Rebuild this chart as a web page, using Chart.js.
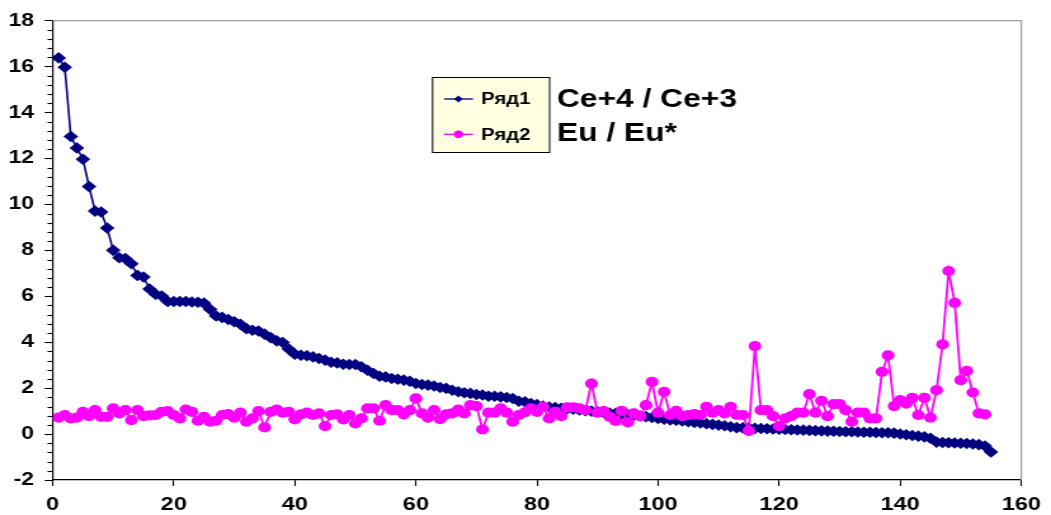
<!DOCTYPE html>
<html>
<head>
<meta charset="utf-8">
<script src="https://cdn.jsdelivr.net/npm/chart.js@4/dist/chart.umd.min.js"></script>
<style>
  body { margin: 0; background: #fff; }
</style>
</head>
<body>
<canvas id="c" width="828" height="515" style="display:block;width:1051px;height:515px"></canvas>
<script>
// Ряд1 : Ce+4 / Ce+3
const ceRatio = [
  16.38, 15.97, 12.96, 12.46, 11.97, 10.78, 9.71, 9.67, 8.97, 8.0,
  7.68, 7.64, 7.42, 6.91, 6.84, 6.32, 6.09, 6.01, 5.77, 5.77,
  5.77, 5.77, 5.75, 5.74, 5.7, 5.43, 5.14, 5.08, 4.99, 4.89,
  4.78, 4.59, 4.52, 4.49, 4.35, 4.2, 4.06, 3.99, 3.7, 3.48,
  3.43, 3.41, 3.36, 3.29, 3.22, 3.13, 3.1, 3.04, 3.03, 3.03,
  2.93, 2.78, 2.64, 2.52, 2.49, 2.42, 2.39, 2.35, 2.3, 2.2,
  2.16, 2.13, 2.09, 2.03, 1.99, 1.91, 1.84, 1.8, 1.77, 1.72,
  1.7, 1.65, 1.65, 1.62, 1.59, 1.55, 1.43, 1.41, 1.33, 1.28,
  1.22, 1.18, 1.15, 1.12, 1.1, 1.08, 1.05, 1.02, 1.0, 0.97,
  0.95, 0.92, 0.9, 0.87, 0.85, 0.82, 0.79, 0.76, 0.72, 0.68,
  0.65, 0.62, 0.6, 0.57, 0.54, 0.51, 0.48, 0.45, 0.42, 0.39,
  0.36, 0.32, 0.28, 0.27, 0.26, 0.25, 0.24, 0.23, 0.22, 0.21,
  0.2, 0.19, 0.18, 0.17, 0.16, 0.15, 0.14, 0.13, 0.12, 0.11,
  0.1, 0.1, 0.09, 0.08, 0.08, 0.07, 0.06, 0.06, 0.04, 0.0,
  -0.03, -0.06, -0.09, -0.12, -0.18, -0.35, -0.37, -0.38, -0.39, -0.4,
  -0.41, -0.43, -0.46, -0.52, -0.78
];

// Ряд2 : Eu / Eu*
const euRatio = [
  0.72, 0.83, 0.68, 0.72, 0.97, 0.78, 1.04, 0.75, 0.75, 1.12,
  0.9, 1.04, 0.61, 1.04, 0.78, 0.81, 0.83, 0.97, 1.0, 0.83,
  0.68, 1.07, 0.97, 0.58, 0.75, 0.54, 0.58, 0.83, 0.87, 0.72,
  0.93, 0.54, 0.68, 1.0, 0.29, 0.97, 1.07, 0.93, 0.97, 0.64,
  0.86, 0.93, 0.83, 0.9, 0.35, 0.83, 0.86, 0.64, 0.83, 0.46,
  0.68, 1.12, 1.12, 0.58, 1.26, 1.04, 1.04, 0.86, 1.04, 1.55,
  0.9, 0.72, 1.04, 0.65, 0.86, 0.9, 1.07, 0.9, 1.26, 1.22,
  0.2, 0.93, 0.93, 1.12, 0.93, 0.54, 0.83, 0.95, 1.12, 0.97,
  1.19, 0.68, 0.97, 0.78, 1.16, 1.16, 1.12, 1.04, 2.2, 0.93,
  1.0, 0.75, 0.57, 1.01, 0.51, 0.9, 0.78, 1.26, 2.27, 0.93,
  1.84, 0.83, 1.01, 0.78, 0.83, 0.87, 0.83, 1.19, 0.93, 1.04,
  0.9, 1.19, 0.83, 0.83, 0.14, 3.83, 1.04, 1.04, 0.78, 0.35,
  0.68, 0.78, 0.93, 0.93, 1.74, 0.93, 1.45, 0.78, 1.3, 1.3,
  1.04, 0.54, 0.93, 0.93, 0.68, 0.68, 2.71, 3.43, 1.22, 1.48,
  1.33, 1.58, 0.83, 1.58, 0.71, 1.91, 3.91, 7.1, 5.71, 2.35,
  2.75, 1.81, 0.9, 0.86
];

const seriesNames = ['Ряд1', 'Ряд2'];
const noteLines = ['Ce+4 / Ce+3', 'Eu / Eu*'];
const xTicks = [0, 20, 40, 60, 80, 100, 120, 140, 160];
const yTicks = [-2, 0, 2, 4, 6, 8, 10, 12, 14, 16, 18];

// sample numbers 1..N
const sampleNo = ceRatio.map((v, i) => i + 1);

const FONT = '"Liberation Sans", Arial, sans-serif';
const NAVY = '#000080';
const PINK = '#ff00ff';

const extras = {
  id: 'extras',
  beforeDatasetsDraw(chart) {
    const { ctx, chartArea: a } = chart;
    ctx.save();
    ctx.strokeStyle = '#a0a0a0';
    ctx.lineWidth = 1.3;
    ctx.beginPath();
    ctx.moveTo(a.left, a.top);
    ctx.lineTo(a.right, a.top);
    ctx.lineTo(a.right, a.bottom);
    ctx.stroke();
    // minor ticks on the value axis, every 0.4
    const y = chart.scales.y;
    ctx.strokeStyle = '#000';
    ctx.lineWidth = 1.1;
    for (let k = 0; k <= 50; k++) {
      if (k % 5 === 0) continue;
      const py = Math.round(y.getPixelForValue(yTicks[0] + k * 0.4)) + 0.5;
      ctx.beginPath();
      ctx.moveTo(a.left - 4, py);
      ctx.lineTo(a.left, py);
      ctx.stroke();
    }
    ctx.restore();
  },
  afterDraw(chart) {
    const { ctx } = chart;
    const ds = chart.data.datasets;
    ctx.save();
    // legend box
    const bx = 340.3, by = 77, bw = 92.2, bh = 75;
    ctx.fillStyle = '#ffffe1';
    ctx.fillRect(bx, by, bw, bh);
    ctx.strokeStyle = '#000';
    ctx.lineWidth = 1;
    ctx.strokeRect(bx + 0.5, by + 0.5, bw, bh);
    const rows = [99, 134.3];
    ds.forEach((d, i) => {
      const ry = rows[i];
      ctx.strokeStyle = d.borderColor;
      ctx.lineWidth = 1.3;
      ctx.beginPath();
      ctx.moveTo(349.8, ry);
      ctx.lineTo(372.6, ry);
      ctx.stroke();
      ctx.fillStyle = d.backgroundColor;
      ctx.beginPath();
      if (d.pointStyle === 'rectRot') {
        const r = 3.4;
        ctx.moveTo(361.2 - r, ry);
        ctx.lineTo(361.2, ry - r);
        ctx.lineTo(361.2 + r, ry);
        ctx.lineTo(361.2, ry + r);
        ctx.closePath();
      } else {
        ctx.arc(361.2, ry, 3.7, 0, Math.PI * 2);
      }
      ctx.fill();
      ctx.fillStyle = '#000';
      ctx.font = 'bold 16px ' + FONT;
      ctx.textBaseline = 'middle';
      ctx.textAlign = 'left';
      ctx.fillText(d.label, 379, ry + 1);
    });
    // annotation next to the legend
    ctx.font = 'bold 25px ' + FONT;
    ctx.fillText(noteLines[0], 438.8, 100.5);
    ctx.fillText(noteLines[1], 438.8, 134);
    ctx.restore();
  }
};

new Chart(document.getElementById('c'), {
  type: 'line',
  data: {
    labels: sampleNo,
    datasets: [
      {
        label: seriesNames[0],
        data: ceRatio,
        borderColor: NAVY,
        backgroundColor: NAVY,
        borderWidth: 1.6,
        pointStyle: 'rectRot',
        pointRadius: 5.8,
        pointBorderWidth: 0,
        order: 1
      },
      {
        label: seriesNames[1],
        data: euRatio,
        borderColor: PINK,
        backgroundColor: PINK,
        borderWidth: 1.8,
        pointStyle: 'circle',
        pointRadius: 5.1,
        pointBorderWidth: 0,
        order: 0
      }
    ]
  },
  options: {
    responsive: false,
    devicePixelRatio: 1,
    animation: false,
    layout: { padding: { top: 20.7, right: 18.5, left: 0, bottom: 0 } },
    plugins: { legend: { display: false }, tooltip: { enabled: false } },
    elements: { line: { tension: 0 } },
    scales: {
      x: {
        type: 'linear',
        min: xTicks[0],
        max: xTicks[xTicks.length - 1],
        afterBuildTicks: s => { s.ticks = xTicks.map(v => ({ value: v })); },
        afterFit: s => { s.height = 35; },
        border: { color: '#000', width: 1.2 },
        grid: { drawOnChartArea: false, tickLength: 6, tickColor: '#000', tickWidth: 1.1 },
        ticks: { color: '#000', padding: 8, font: { family: FONT, size: 18.5, weight: 'bold' } }
      },
      y: {
        min: yTicks[0],
        max: yTicks[yTicks.length - 1],
        afterBuildTicks: s => { s.ticks = yTicks.map(v => ({ value: v })); },
        afterFit: s => { s.width = 41.5; },
        border: { color: '#000', width: 1.2 },
        grid: { drawOnChartArea: false, tickLength: 6.3, tickColor: '#000', tickWidth: 1.1 },
        ticks: { color: '#000', padding: 8.4, font: { family: FONT, size: 18, weight: 'bold' } }
      }
    }
  },
  plugins: [extras]
});
</script>
</body>
</html>
